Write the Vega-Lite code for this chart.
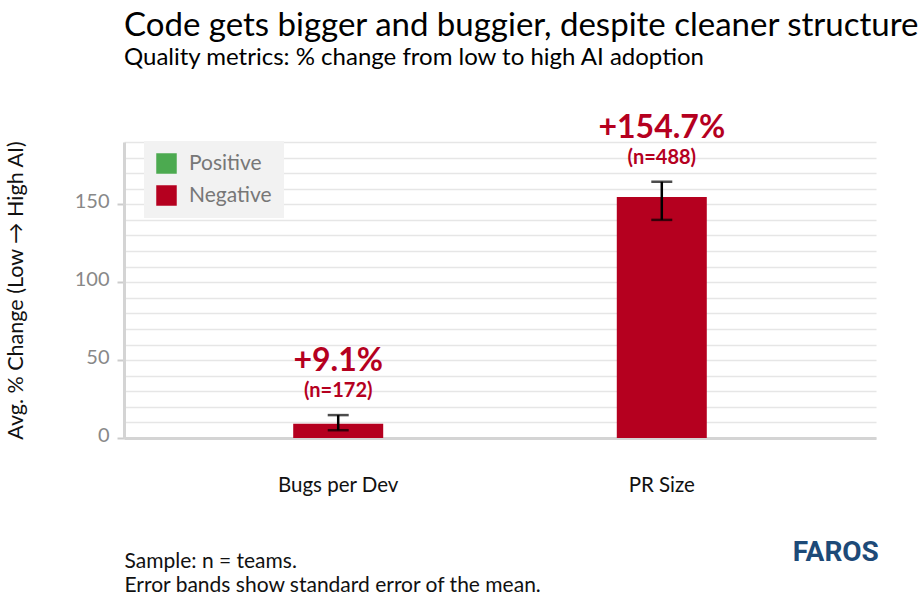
{
  "$schema": "https://vega.github.io/schema/vega-lite/v6.json",
  "autosize": {"type": "none"},
  "width": 752,
  "height": 296,
  "padding": {"left": 124, "top": 142, "right": 42, "bottom": 159},
  "background": "white",
  "config": {
    "font": "Lato",
    "view": {"stroke": null}
  },
  "title": {
    "text": "Code gets bigger and buggier, despite cleaner structure",
    "subtitle": "Quality metrics: % change from low to high AI adoption",
    "anchor": "start",
    "frame": "group",
    "font": "Lato",
    "fontSize": 33,
    "fontWeight": "normal",
    "color": "#000000",
    "subtitleFont": "Lato",
    "subtitleFontSize": 24,
    "subtitleColor": "#000000",
    "subtitlePadding": 3,
    "offset": 42
  },
  "data": {
    "values": [
      {"metric": "Bugs per Dev", "value": 9.1, "lower": 5.0, "upper": 14.7, "effect": "Negative", "label": "+9.1%", "nlabel": "(n=172)"},
      {"metric": "PR Size", "value": 154.7, "lower": 140.0, "upper": 164.5, "effect": "Negative", "label": "+154.7%", "nlabel": "(n=488)"}
    ]
  },
  "encoding": {
    "x": {
      "field": "metric",
      "type": "nominal",
      "sort": ["Bugs per Dev", "PR Size"],
      "scale": {"paddingInner": 0, "paddingOuter": 0.162},
      "axis": {
        "labelAngle": 0,
        "labelFont": "Lato",
        "labelFontSize": 20.5,
        "labelColor": "#111111",
        "labelPadding": 37,
        "ticks": false,
        "domainColor": "#d4d4d4",
        "domainWidth": 3,
        "grid": false,
        "title": ["Sample: n = teams.", "Error bands show standard error of the mean."],
        "titleAnchor": "start",
        "titleAlign": "left",
        "titleBaseline": "top",
        "titleFont": "Lato",
        "titleFontSize": 21,
        "titleFontWeight": "normal",
        "titleColor": "#111111",
        "titleLineHeight": 24,
        "titlePadding": 55
      }
    }
  },
  "layer": [
    {
      "mark": {"type": "bar", "size": 90},
      "encoding": {
        "y": {
          "field": "value",
          "type": "quantitative",
          "scale": {"domain": [0, 190], "nice": false},
          "axis": {
            "values": [0, 10, 20, 30, 40, 50, 60, 70, 80, 90, 100, 110, 120, 130, 140, 150, 160, 170, 180, 190],
            "tickCount": 40,
            "labelExpr": "datum.value % 50 === 0 ? datum.label : ''",
            "tickOpacity": {"condition": {"test": "datum.value % 50 === 0", "value": 1}, "value": 0},
            "tickColor": "#cccccc",
            "tickSize": 7,
            "tickWidth": 2,
            "labelFont": "Lato",
            "labelFontSize": 20,
            "labelColor": "#888888",
            "labelPadding": 8,
            "labelOffset": -3,
            "labelOverlap": false,
            "gridColor": "#e6e6e6",
            "gridWidth": 1.5,
            "domainColor": "#d4d4d4",
            "domainWidth": 3,
            "title": "Avg. % Change (Low → High AI)",
            "titleFont": "Lato",
            "titleFontSize": 21.5,
            "titleFontWeight": "normal",
            "titleColor": "#111111",
            "titlePadding": 47
          }
        },
        "color": {
          "field": "effect",
          "type": "nominal",
          "scale": {"domain": ["Positive", "Negative"], "range": ["#4caa50", "#b5001f"]},
          "legend": {
            "title": null,
            "orient": "none",
            "legendX": 20,
            "legendY": -1,
            "fillColor": "#f2f2f2",
            "padding": 12,
            "symbolType": "square",
            "symbolSize": 420,
            "symbolStrokeWidth": 0,
            "symbolOpacity": 1,
            "labelFont": "Lato",
            "labelFontSize": 21,
            "labelColor": "#777777",
            "labelOffset": 12,
            "rowPadding": 10,
            "labelLimit": 200
          }
        }
      }
    },
    {
      "mark": {"type": "rule", "color": "#000000", "strokeWidth": 2.5},
      "encoding": {
        "y": {"field": "lower", "type": "quantitative"},
        "y2": {"field": "upper"}
      }
    },
    {
      "mark": {"type": "tick", "color": "#000000", "thickness": 2.5, "size": 21, "orient": "horizontal"},
      "encoding": {"y": {"field": "lower", "type": "quantitative"}}
    },
    {
      "mark": {"type": "tick", "color": "#000000", "thickness": 2.5, "size": 21, "orient": "horizontal"},
      "encoding": {"y": {"field": "upper", "type": "quantitative"}}
    },
    {
      "mark": {"type": "text", "font": "Lato", "fontSize": 20, "fontWeight": "bold", "color": "#b5001f", "baseline": "alphabetic", "dy": -18},
      "encoding": {
        "y": {"field": "upper", "type": "quantitative"},
        "text": {"field": "nlabel"}
      }
    },
    {
      "mark": {"type": "text", "font": "Lato", "fontSize": 32, "fontWeight": "bold", "color": "#b5001f", "baseline": "alphabetic", "dy": -44},
      "encoding": {
        "y": {"field": "upper", "type": "quantitative"},
        "text": {"field": "label"}
      }
    },
    {
      "data": {"values": [{"logo": "FAROS"}]},
      "mark": {"type": "text", "font": "Roboto", "fontSize": 28, "fontWeight": "bold", "color": "#1d4a78", "baseline": "middle", "dx": 174},
      "encoding": {
        "x": {"datum": "PR Size"},
        "y": {"datum": -74},
        "text": {"field": "logo"}
      }
    }
  ]
}
